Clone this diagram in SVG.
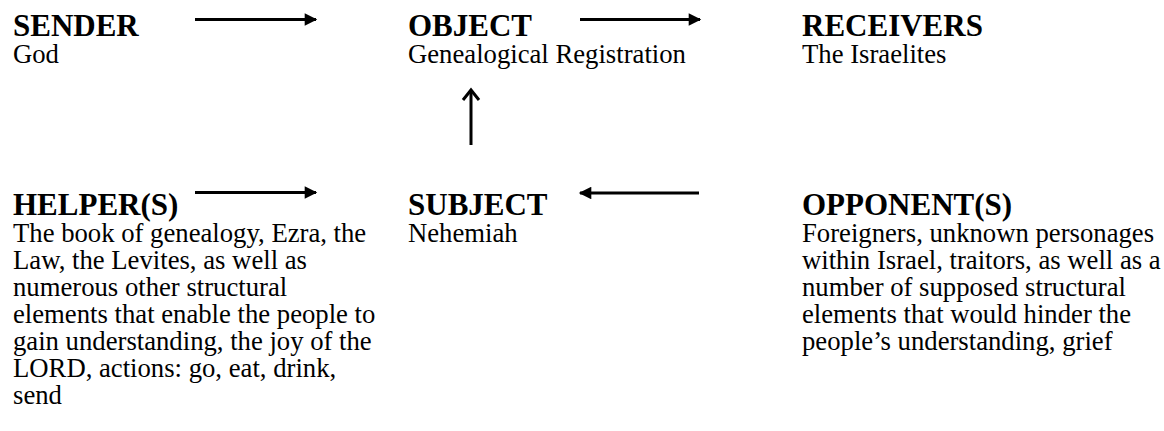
<svg xmlns="http://www.w3.org/2000/svg" width="1164" height="431" viewBox="0 0 1164 431">
<defs>
<style>
.h{font-family:"Liberation Serif","Times New Roman",serif;font-weight:bold;font-size:31px;fill:#000}
.t{font-family:"Liberation Serif","Times New Roman",serif;font-size:26.7px;fill:#000}
.c{stroke:#000;stroke-width:3;fill:none}
</style>
<marker id="ah" viewBox="0 0 10 10" refX="9" refY="5" markerWidth="5" markerHeight="4.2" orient="auto" markerUnits="strokeWidth">
<path d="M0,0 L10,5 L0,10 Z" fill="#000"/>
</marker>
</defs>
<rect width="1164" height="431" fill="#fff"/>
<g id="sender"><text class="h" x="13" y="36">SENDER</text><text class="t" x="13" y="63">God</text></g>
<g id="object"><text class="h" x="408" y="36">OBJECT</text><text class="t" x="408" y="63">Genealogical Registration</text></g>
<g id="receivers"><text class="h" x="802" y="36">RECEIVERS</text><text class="t" x="802" y="63">The Israelites</text></g>
<g id="helpers"><text class="h" x="13" y="215">HELPER(S)</text>
<text class="t" x="13" y="242">The book of genealogy, Ezra, the</text>
<text class="t" x="13" y="269">Law, the Levites, as well as</text>
<text class="t" x="13" y="296">numerous other structural</text>
<text class="t" x="13" y="323">elements that enable the people to</text>
<text class="t" x="13" y="350">gain understanding, the joy of the</text>
<text class="t" x="13" y="377">LORD, actions: go, eat, drink,</text>
<text class="t" x="13" y="404">send</text></g>
<g id="subject"><text class="h" x="408" y="215">SUBJECT</text><text class="t" x="408" y="242">Nehemiah</text></g>
<g id="opponents"><text class="h" x="802" y="215">OPPONENT(S)</text>
<text class="t" x="802" y="242">Foreigners, unknown personages</text>
<text class="t" x="802" y="269">within Israel, traitors, as well as a</text>
<text class="t" x="802" y="296">number of supposed structural</text>
<text class="t" x="802" y="323">elements that would hinder the</text>
<text class="t" x="802" y="350">people’s understanding, grief</text></g>
<g id="connectors">
<line class="c" x1="195" y1="19.5" x2="316" y2="19.5" marker-end="url(#ah)"/>
<line class="c" x1="580" y1="19.5" x2="700" y2="19.5" marker-end="url(#ah)"/>
<line class="c" x1="195" y1="192.5" x2="316" y2="192.5" marker-end="url(#ah)"/>
<line class="c" x1="699" y1="193" x2="580" y2="193" marker-end="url(#ah)"/>
<line class="c" x1="471" y1="145" x2="471" y2="90"/>
<path class="c" d="M463,100 L471,90 L479,100"/>
</g>
</svg>
